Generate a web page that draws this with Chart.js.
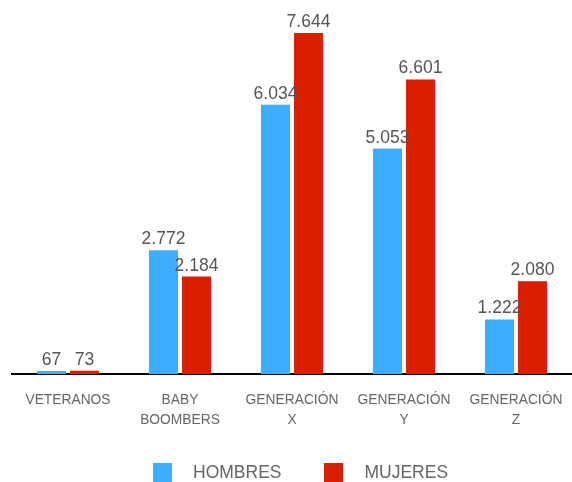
<!DOCTYPE html>
<html>
<head>
<meta charset="utf-8">
<script src="https://cdn.jsdelivr.net/npm/chart.js@4/dist/chart.umd.min.js"></script>
<style>
	body { margin: 0; background: #fff; font-family: "Liberation Sans", Arial, sans-serif; }
	#wrap { position: relative; width: 572px; height: 482px; }
	#generaciones { display: block; }
	#legend { position: absolute; left: 153px; top: 462px; display: flex; align-items: center; font-size: 17.5px; color: #666; }
	#legend .item { display: flex; align-items: center; margin-right: 43px; }
	#legend .box { width: 19px; height: 19px; margin-right: 21px; }
</style>
</head>
<body>
<div id="wrap">
	<canvas id="generaciones" width="572" height="482"></canvas>
	<div id="legend"></div>
</div>
<script>
	const categorias = [["VETERANOS"], ["BABY", "BOOMBERS"], ["GENERACIÓN", "X"], ["GENERACIÓN", "Y"], ["GENERACIÓN", "Z"]];
	const hombres = [67, 2772, 6034, 5053, 1222];
	const mujeres = [73, 2184, 7644, 6601, 2080];
	const seriesNames = ["HOMBRES", "MUJERES"];
	const colors = ["#3dadff", "#da1e00"];

	function formatNum(v) {
		return String(v).replace(/\B(?=(\d{3})+(?!\d))/g, ".");
	}

	// value labels above each bar
	const valueLabels = {
		id: "valueLabels",
		afterDatasetsDraw(chart) {
			const ctx = chart.ctx;
			ctx.save();
			ctx.font = '17.5px "Liberation Sans", Arial, sans-serif';
			ctx.fillStyle = "#555";
			ctx.textAlign = "center";
			ctx.textBaseline = "alphabetic";
			chart.data.datasets.forEach((ds, i) => {
				chart.getDatasetMeta(i).data.forEach((bar, j) => {
					ctx.fillText(formatNum(ds.data[j]), bar.x, bar.y - 6);
				});
			});
			ctx.restore();
		}
	};

	new Chart(document.getElementById("generaciones"), {
		type: "bar",
		data: {
			labels: categorias,
			datasets: [
				{ label: seriesNames[0], data: hombres, backgroundColor: colors[0] },
				{ label: seriesNames[1], data: mujeres, backgroundColor: colors[1] },
			],
		},
		options: {
			responsive: false,
			animation: false,
			layout: { padding: { top: 17, left: 12, right: 0, bottom: 47 } },
			datasets: { bar: { barPercentage: 0.88, categoryPercentage: 0.59 } },
			plugins: { legend: { display: false }, tooltip: { enabled: false } },
			scales: {
				x: {
					grid: { display: true, drawOnChartArea: false, color: "rgba(0,0,0,0)", tickLength: 11 },
					border: { display: true, color: "#000", width: 2 },
					ticks: {
						color: "#666",
						padding: 5,
						maxRotation: 0,
						autoSkip: false,
						font: { family: '"Liberation Sans", Arial, sans-serif', size: 13.8, lineHeight: 1.45 },
					},
				},
				y: { display: false, min: 0, max: 8000 },
			},
		},
		plugins: [valueLabels],
	});

	const legend = document.getElementById("legend");
	seriesNames.forEach((name, i) => {
		const item = document.createElement("div");
		item.className = "item";
		item.innerHTML = '<span class="box" style="background:' + colors[i] + '"></span><span>' + name + "</span>";
		legend.appendChild(item);
	});
</script>
</body>
</html>
